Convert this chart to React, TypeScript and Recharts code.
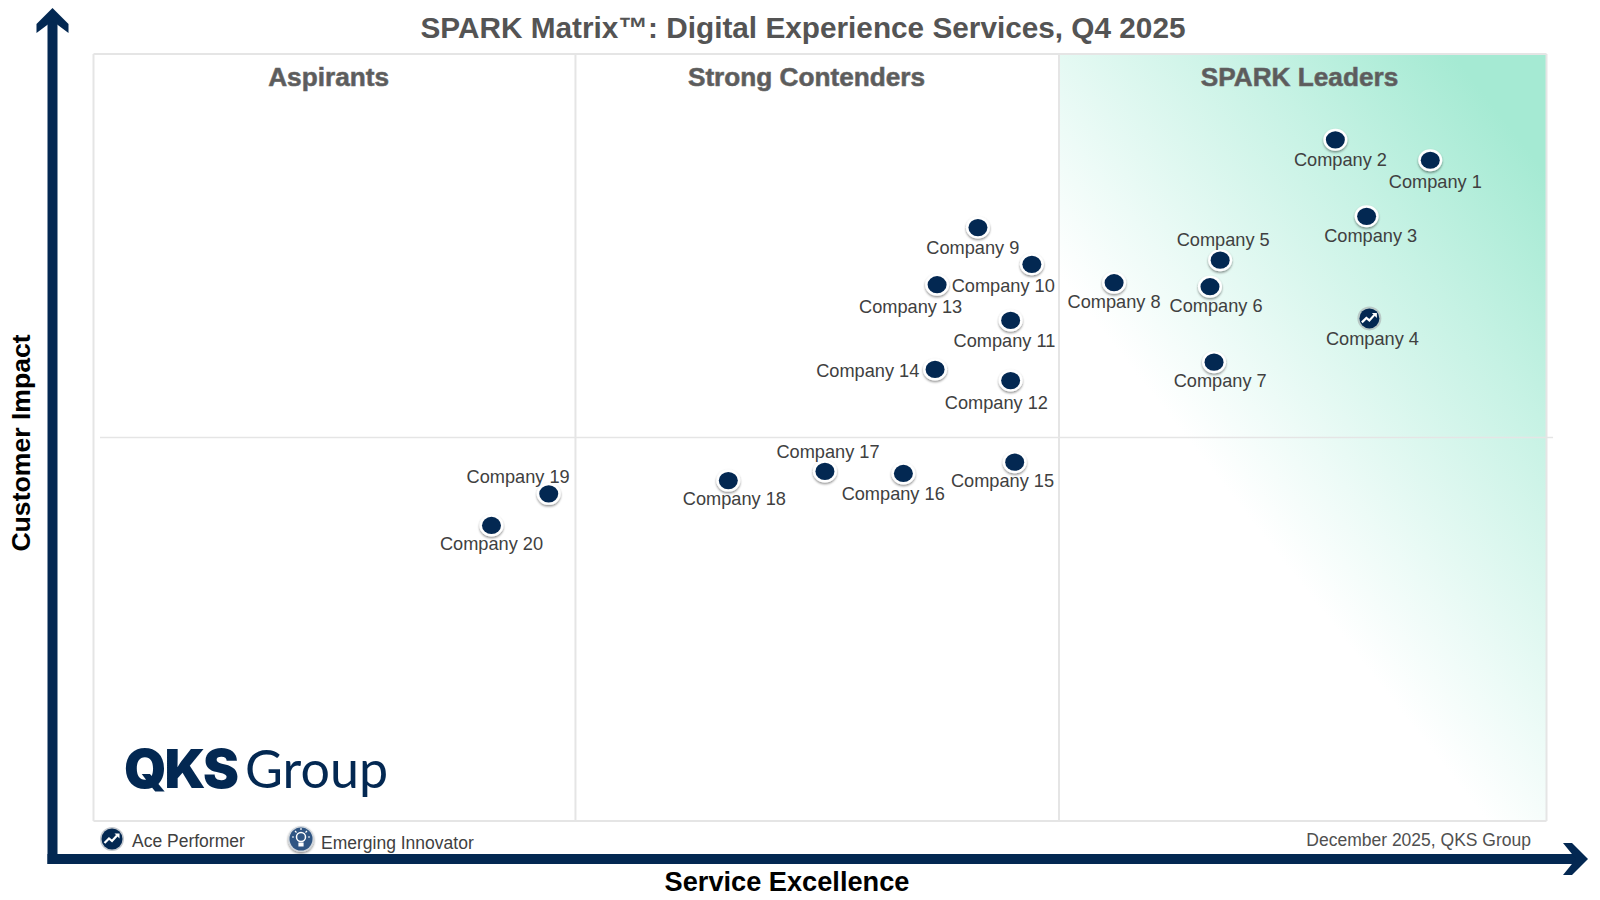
import React from 'react';
import { ScatterChart, Scatter, XAxis, YAxis, ReferenceArea, ReferenceLine } from 'recharts';

const companies = ['Company 1', 'Company 2', 'Company 3', 'Company 4', 'Company 5', 'Company 6', 'Company 7', 'Company 8', 'Company 9', 'Company 10',
  'Company 11', 'Company 12', 'Company 13', 'Company 14', 'Company 15', 'Company 16', 'Company 17', 'Company 18', 'Company 19', 'Company 20'];
const serviceExcellence = [92.0, 85.47, 87.62, 87.81, 77.54, 76.84, 77.12, 70.24, 60.87, 64.58, 63.12, 63.12, 58.06, 57.92, 63.4, 55.74, 50.34, 43.69, 31.33, 27.39];
const customerImpact = [86.15, 88.81, 78.84, 65.53, 73.12, 69.66, 59.82, 70.18, 77.37, 72.58, 65.27, 57.42, 69.92, 58.88, 46.78, 45.31, 45.58, 44.38, 42.65, 38.53];
const acePerformers = ['Company 4'];

const quadrants = ['Aspirants', 'Strong Contenders', 'SPARK Leaders'];
const quadrantEdgesX = [0, 33.17, 66.45, 100];
const quadrantFills = ['none', 'none', 'url(#leaders)'];
const splitY = 50;

// label offset from its dot, in px
const labelDx = [5, 5, 4, 3, 3, 6, 6, 0, -5, -28, -6, -14, -26, -66, -12, -10, 3, 6, -30, 0];
const labelDy = [21, 19.5, 19, 19.5, -20, 18.5, 18, 18.5, 20, 21, 20, 21.5, 21.5, 1.5, 18, 20, -20, 18, -17, 18];
const quadrantLabelX = [328.6, 806.5, 1299.5];

const NAVY = '#032852';
const GRID = '#e5e5e5';
const FONT = '"Liberation Sans", Arial, sans-serif';

const rows = companies.map((name, i) => ({
  name,
  x: serviceExcellence[i],
  y: customerImpact[i],
  dx: labelDx[i] * 1.02,
  dy: labelDy[i] * 1.02,
}));
const plainRows = rows.filter(r => !acePerformers.includes(r.name));
const aceRows = rows.filter(r => acePerformers.includes(r.name));

const Zigzag = ({ cx, cy, s = 1 }: any) => (
  <g transform={`translate(${cx},${cy}) scale(${s})`}>
    <path d="M-7.5,4 L-3,-0.5 L0,2 L5,-3.5" fill="none" stroke="#fff" strokeWidth={2.2} />
    <path d="M2.5,-5.5 L7.5,-5.5 L7.5,-0.5 Z" fill="#fff" />
  </g>
);

const CompanyLabel = ({ cx, cy, payload }: any) => (
  <text x={cx + payload.dx} y={cy + payload.dy + 6.5} textAnchor="middle" fontSize={18.2} fontFamily={FONT} fill="#404040">{payload.name}</text>
);

const PlainDot = (props: any) => {
  const { cx, cy } = props;
  return (
    <g>
      <ellipse cx={cx} cy={cy} rx={12} ry={11} fill="#fff" filter="url(#dotShadow)" />
      <ellipse cx={cx} cy={cy} rx={9.5} ry={8.6} fill={NAVY} />
      <CompanyLabel {...props} />
    </g>
  );
};

const AceDot = (props: any) => {
  const { cx, cy } = props;
  return (
    <g>
      <circle cx={cx} cy={cy} r={12} fill="#b9c9c6" />
      <circle cx={cx} cy={cy} r={10} fill={NAVY} />
      <Zigzag cx={cx} cy={cy} />
      <CompanyLabel {...props} />
    </g>
  );
};

const Defs = () => (
  <defs>
    <linearGradient id="leaders" x1="0.1" y1="1" x2="0.91" y2="0">
      <stop offset="0.38" stopColor="#ffffff" />
      <stop offset="0.5" stopColor="#edfbf7" />
      <stop offset="0.75" stopColor="#c6f2e4" />
      <stop offset="0.95" stopColor="#a5ead3" />
    </linearGradient>
    <filter id="dotShadow" x="-40%" y="-40%" width="180%" height="180%">
      <feDropShadow dx="0" dy="1.5" stdDeviation="1.1" floodColor="#000" floodOpacity="0.45" />
    </filter>
  </defs>
);

const Decorations = () => (
  <g>
    {/* axis arrows */}
    <rect x={47.5} y={20} width={10} height={844} fill={NAVY} />
    <path d="M52.5,8 L68.5,24 V33 L52.5,21 L36.5,33 V24 Z" fill={NAVY} />
    <rect x={47.5} y={854} width={1530} height={10} fill={NAVY} />
    <path d="M1588,859 L1572,843 H1563 L1576,859 L1563,875 H1572 Z" fill={NAVY} />

    <text x={803} y={38} textAnchor="middle" fontSize={29.75} fontWeight={700} fontFamily={FONT} fill="#545454">SPARK Matrix™: Digital Experience Services, Q4 2025</text>
    <text x={787} y={891} textAnchor="middle" fontSize={27.2} fontWeight={700} fontFamily={FONT} fill="#000">Service Excellence</text>
    <text transform="translate(30,443) rotate(-90)" textAnchor="middle" fontSize={26.6} fontWeight={700} fontFamily={FONT} fill="#000">Customer Impact</text>

    {/* logo */}
    <text x={124} y={788} fontSize={54} fontWeight={900} fontFamily="Inter, Roboto, sans-serif" fill={NAVY} letterSpacing={-2}>QKS</text>
    <text x={245} y={788} fontSize={52} fontWeight={400} fontFamily="Lato, Roboto, sans-serif" fill={NAVY}>Group</text>

    {/* legend */}
    <circle cx={112} cy={839} r={12} fill="#c4c9cf" />
    <circle cx={112} cy={839} r={10.5} fill={NAVY} />
    <Zigzag cx={112} cy={839} />
    <text x={132} y={847} fontSize={17.5} fontFamily={FONT} fill="#404040">Ace Performer</text>
    <circle cx={301} cy={839} r={13} fill="#d0d6dc" filter="url(#dotShadow)" />
    <circle cx={301} cy={839} r={11.5} fill="#2f5583" />
    <circle cx={301} cy={837} r={4.5} fill="none" stroke="#fff" strokeWidth={1.5} />
    <path d="M299,843 H303 V846 H299 Z M301,828 V830 M292,837 H294 M308,837 H310 M295,831 L296.5,832.5 M307,831 L305.5,832.5" stroke="#fff" strokeWidth={1.2} fill="#fff" />
    <text x={321} y={848.5} fontSize={17.5} fontFamily={FONT} fill="#404040">Emerging Innovator</text>
    <text x={1531} y={846} textAnchor="end" fontSize={17.5} fontFamily={FONT} fill="#505050">December 2025, QKS Group</text>
  </g>
);

export default function App() {
  return (
    <div style={{ position: 'absolute', left: 0, top: 0, width: 1600, height: 900, background: '#fff' }}>
      <ScatterChart width={1600} height={900} margin={{ top: 54, right: 53.5, bottom: 79, left: 93.5 }}>
        <Defs />
        <XAxis type="number" dataKey="x" domain={[0, 100]} hide />
        <YAxis type="number" dataKey="y" domain={[0, 100]} hide />
        <Decorations />
        {quadrants.map((q, i) => (
          <ReferenceArea
            key={q}
            x1={quadrantEdgesX[i]}
            x2={quadrantEdgesX[i + 1]}
            y1={0}
            y2={100}
            fill={quadrantFills[i]}
            fillOpacity={1}
            stroke="none"
            label={() => (
              <text x={quadrantLabelX[i]} y={86} textAnchor="middle" fontSize={26.2} fontWeight={700} fontFamily={FONT} fill="#5c5c5c" stroke="#6a6a6a" strokeWidth={0.6}>{q}</text>
            )}
          />
        ))}
        {quadrantEdgesX.map(v => <ReferenceLine key={v} x={v} stroke={GRID} strokeWidth={2} />)}
        <ReferenceLine y={0} stroke={GRID} strokeWidth={2} />
        <ReferenceLine y={100} stroke={GRID} strokeWidth={2} />
        <ReferenceLine segment={[{ x: 0.45, y: splitY }, { x: 100.45, y: splitY }]} ifOverflow="visible" stroke={GRID} strokeWidth={1.5} />
        <Scatter data={plainRows} shape={PlainDot} isAnimationActive={false} />
        <Scatter data={aceRows} shape={AceDot} isAnimationActive={false} />
      </ScatterChart>
    </div>
  );
}
